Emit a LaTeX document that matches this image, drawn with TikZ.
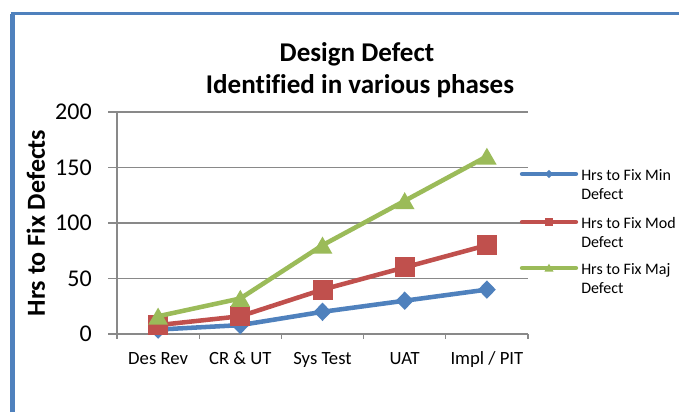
\documentclass[tikz,border=0pt]{standalone}
\usepackage{fontspec}
\setmainfont{Carlito}[Ligatures=NoCommon]
\usetikzlibrary{shapes.geometric}
\definecolor{frameblue}{HTML}{4F81BD}
\definecolor{minblue}{HTML}{4F81BD}
\definecolor{modred}{HTML}{C0504D}
\definecolor{majgreen}{HTML}{9BBB59}
\definecolor{gridgray}{HTML}{898989}

\tikzset{
  gridline/.style={gridgray, line width=0.8pt},
  series/.style={line width=3.4pt, line join=round, line cap=round},
  mkdiamond/.style={diamond, fill=#1, inner sep=0pt, minimum width=13.5pt, minimum height=14pt},
  mksquare/.style={rectangle, fill=#1, inner sep=0pt, minimum size=15pt},
  mktri/.style={regular polygon, regular polygon sides=3, fill=#1, inner sep=0pt, minimum size=17pt},
  ticklabel/.style={font=\fontsize{18}{20}\selectfont, inner sep=0pt, anchor=east},
  catlabel/.style={font=\fontsize{14}{16}\selectfont, inner sep=0pt, anchor=base},
  legtext/.style={font=\fontsize{12}{14}\selectfont, inner sep=0pt, anchor=base west},
  titletext/.style={font=\bfseries\fontsize{20.3}{23}\selectfont, inner sep=0pt, anchor=base},
}

\begin{document}
\begin{tikzpicture}[x=0.75pt, y=-0.75pt]
\useasboundingbox (0,0) rectangle (679,412);
\fill[white] (0,0) rectangle (679,412);

% chart frame (top and left edges)
\draw[frameblue, line width=3.3pt] (12.3,412) -- (12.3,13.8);
\draw[frameblue, line width=2.3pt] (10.6,13.8) -- (679,13.8);

% title
\node[titletext] (title1) at (357,61) {Design Defect};
\node[titletext] (title2) at (360,93) {Identified in various phases};

% horizontal gridlines and value labels
\foreach \v/\nm in {0/a,50/b,100/c,150/d,200/e} {
  \pgfmathsetmacro{\yy}{334-1.11*\v}
  \draw[gridline] (108,\yy) -- (528,\yy);
  \node[ticklabel] (ylab\nm) at (92,\yy) {\v};
}
% value axis
\draw[gridline] (117,112) -- (117,334);
% category ticks
\foreach \xx in {117,199.2,281.4,363.6,445.8,528} {
  \draw[gridline] (\xx,334) -- (\xx,339);
}

% axis title
\node[font=\bfseries\fontsize{19.5}{22}\selectfont, inner sep=0pt, anchor=base, rotate=90]
  (ytitle) at (45,223) {Hrs to Fix Defects};

% category labels
\node[catlabel] (c1) at (158.1,364) {Des Rev};
\node[catlabel] (c2) at (240.3,364) {CR \& UT};
\node[catlabel] (c3) at (322.5,364) {Sys Test};
\node[catlabel] (c4) at (404.7,364) {UAT};
\node[catlabel] (c5) at (486.9,364) {Impl / PIT};

% data points
\foreach \i/\vmin/\vmod/\vmaj in {1/4/8/16, 2/8/16/32, 3/20/40/80, 4/30/60/120, 5/40/80/160} {
  \pgfmathsetmacro{\xx}{117+82.2*(\i-0.5)}
  \coordinate (mn\i) at (\xx,{334-1.11*\vmin});
  \coordinate (md\i) at (\xx,{334-1.11*\vmod});
  \coordinate (mj\i) at (\xx,{334-1.11*\vmaj});
}

% minor defects
\draw[series, minblue] (mn1) -- (mn2) -- (mn3) -- (mn4) -- (mn5);
\foreach \i in {1,...,5} \node[mkdiamond=minblue] (pmn\i) at (mn\i) {};
% moderate defects
\draw[series, modred] (md1) -- (md2) -- (md3) -- (md4) -- (md5);
\foreach \i in {1,...,5} \node[mksquare=modred] (pmd\i) at (md\i) {};
% major defects
\draw[series, majgreen] (mj1) -- (mj2) -- (mj3) -- (mj4) -- (mj5);
\foreach \i in {1,...,5} \node[mktri=majgreen, yshift=-2pt] (pmj\i) at (mj\i) {};

% legend
\coordinate (lga) at (522,174); \coordinate (lgb) at (576,174);
\coordinate (lma) at (522,222); \coordinate (lmb) at (576,222);
\coordinate (lja) at (522,268); \coordinate (ljb) at (576,268);
\draw[series, minblue, line width=3.2pt] (lga) -- (lgb);
\node[mkdiamond=minblue, minimum width=6pt, minimum height=6.5pt] (lgm) at (549,174) {};
\draw[series, modred, line width=3.2pt] (lma) -- (lmb);
\node[mksquare=modred, minimum size=6.5pt] (lmm) at (549,222) {};
\draw[series, majgreen, line width=3.2pt] (lja) -- (ljb);
\node[mktri=majgreen, minimum size=8pt, yshift=-0.8pt] (ljm) at (549,268) {};

\node[legtext] (lt1a) at (581,180.5) {Hrs to Fix Min};
\node[legtext] (lt1b) at (581,199.5) {Defect};
\node[legtext] (lt2a) at (581,228.5) {Hrs to Fix Mod};
\node[legtext] (lt2b) at (581,247.5) {Defect};
\node[legtext] (lt3a) at (581,274.5) {Hrs to Fix Maj};
\node[legtext] (lt3b) at (581,293.5) {Defect};
\end{tikzpicture}
\end{document}
